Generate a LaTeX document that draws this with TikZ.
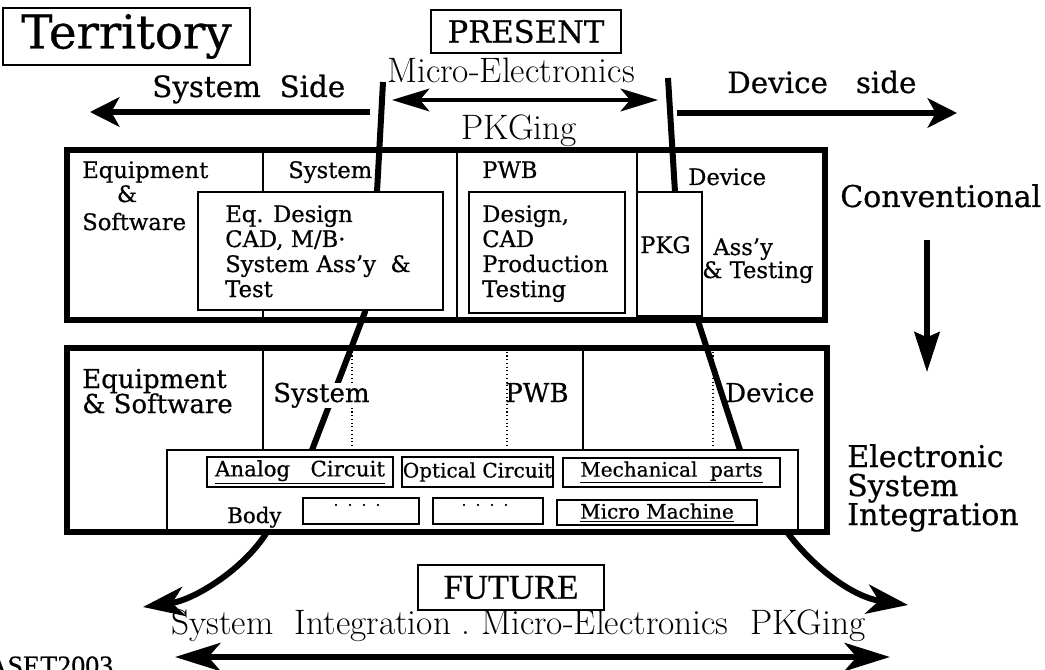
\documentclass[tikz,border=0pt]{standalone}
\usepackage{fontspec}
\newfontfamily\csfont{DejaVu Serif}[FakeBold=0.6]
\newfontfamily\tmfont{Liberation Serif}[FakeBold=0.6]
\usetikzlibrary{arrows.meta}
\newcommand\fsz[2]{\fontsize{#1}{#2}\selectfont}

\tikzset{
  frame/.style={line width=4.5pt},
  divider/.style={line width=0.9pt},
  dotdiv/.style={line width=0.8pt, dotted},
  innerbox/.style={draw, line width=1.1pt, fill=white},
  rowbox/.style={draw, line width=0.9pt, fill=white, inner sep=0pt},
  titlebox/.style={draw, line width=1.1pt, inner sep=0pt},
  bound/.style={line width=4.5pt, line join=round, -{Stealth[length=31pt, width=22pt, inset=9pt]}},
  sidearrow/.style={line width=4.5pt, -{Stealth[length=22pt, width=22pt, inset=6pt]}},
  presarrow/.style={line width=3pt, {Stealth[length=28pt, width=17pt, inset=7pt]}-{Stealth[length=28pt, width=17pt, inset=7pt]}},
  futarrow/.style={line width=5pt, {Stealth[length=34pt, width=21pt, inset=9pt]}-{Stealth[length=34pt, width=21pt, inset=9pt]}},
  downarrow/.style={line width=4pt, -{Stealth[length=30pt, width=19pt, inset=4pt]}},
  lbl/.style={anchor=base west, inner sep=0pt, font=\csfont\fsz{17pt}{19pt}},
  midlbl/.style={anchor=base west, inner sep=0pt, font=\csfont\fsz{19.5pt}{22pt}},
  sidelbl/.style={anchor=base west, inner sep=0pt, font=\csfont\fsz{22.5pt}{26pt}},
  lightlbl/.style={anchor=base, inner sep=0pt, font=\fsz{26.5pt}{30pt}},
  rowlbl/.style={font=\csfont\fsz{15pt}{17pt}},
}

\begin{document}
\begin{tikzpicture}[x=0.75pt,y=-0.75pt]
\useasboundingbox (0,0) rectangle (1045,670);

% headline
\node[titlebox, minimum width=185pt, minimum height=42.75pt, font=\csfont\fsz{35pt}{40pt}] (terr) at (126.5,36.5) {Territory};
\node[titlebox, minimum width=142.5pt, minimum height=32.25pt, font=\csfont\fsz{23pt}{26pt}] (present) at (526,31.5) {PRESENT};
\node[anchor=base west, inner sep=0pt, font=\csfont\fsz{22pt}{26pt}] (sysside) at (152,97) {System\ \ Side};
\node[anchor=base west, inner sep=0pt, font=\csfont\fsz{22pt}{26pt}] (devside) at (727,93) {Device\ \ \ side};
\node[lightlbl] (micro) at (511,83) {Micro-Electronics};
\node[lightlbl] (pkging) at (519,140) {PKGing};

\coordinate (sysR) at (370,112); \coordinate (sysL) at (90,112);
\coordinate (mpL) at (392,100); \coordinate (mpR) at (658,100);
\coordinate (devL) at (677,113); \coordinate (devR) at (957,113);
\draw[sidearrow] (sysR) -- (sysL);
\draw[presarrow] (mpL) -- (mpR);
\draw[sidearrow] (devL) -- (devR);

% column lines
\foreach \x in {263,457,637} \draw[divider] (\x,150) -- (\x,320);
\foreach \x in {263,583} \draw[divider] (\x,348) -- (\x,450);
\foreach \x in {352,507,713} \draw[dotdiv] (\x,348) -- (\x,450);

% PKGing borders
\coordinate (lTop) at (383,82); \coordinate (lOut) at (267,532); \coordinate (lTip) at (143,607);
\coordinate (rTop) at (668,78); \coordinate (rOut) at (787,532); \coordinate (rTip) at (908,605);
\draw[bound] (lTop) -- (377,192) -- (365,312) -- (312,450) -- (lOut) .. controls (245,568) and (195,600) .. (lTip);
\draw[bound] (rTop) -- (675,192) -- (697,318) -- (740,450) -- (rOut) .. controls (812,566) and (852,597) .. (rTip);

% inner boxes
\draw[innerbox] (198,192) rectangle (443,310);
\draw[innerbox] (469,192) rectangle (625,313);
\draw[innerbox] (637,192) rectangle (702,316);
\draw[innerbox] (167,450) rectangle (798,532);

\draw[frame] (67,150) rectangle (825,320);
\draw[frame] (67,348) rectangle (827,532);

% conventional
\node[lbl] (eqA) at (82,178) {Equipment};
\node[lbl, anchor=base] (eqB) at (127,202) {\&};
\node[lbl] (eqC) at (82,230) {Software};
\node[lbl] (sysU) at (288,178) {System};
\node[lbl] (pwbU) at (482,178) {PWB};
\node[lbl] (devU) at (688,185) {Device};
\foreach \t [count=\i from 0] in {Eq. Design, {CAD, M/B·}, {System Ass’y\ \ \&}, Test}
  \node[lbl] (eqd\i) at (225,{222+25*\i}) {\t};
\foreach \t [count=\i from 0] in {{Design,}, CAD, Production, Testing}
  \node[lbl] (cad\i) at (482,{222+25*\i}) {\t};
\node[lbl] (pkg) at (640,253) {PKG};
\node[lbl] (assy) at (713,255) {Ass’y};
\node[lbl] (test) at (702,278) {\& Testing};
\node[sidelbl] (conv) at (840,207) {Conventional};

\coordinate (convA) at (927,240); \coordinate (convB) at (927,372);
\draw[downarrow] (convA) -- (convB);

% electronic system integration
\node[midlbl] (eqL) at (82,388) {Equipment};
\node[midlbl] (swL) at (82,413) {\& Software};
\node[midlbl, fill=white] (sysL) at (273,402) {System};
\node[midlbl] (pwbL) at (505,402) {PWB};
\node[midlbl] (devLo) at (725,402) {Device};

\node[rowbox, rowlbl, font=\csfont\fsz{16pt}{18pt}, minimum width=139.5pt, minimum height=22.5pt] (analog) at (300,472) {\underline{Analog\ \ \ Circuit}};
\node[rowbox, rowlbl, minimum width=113.25pt, minimum height=22.5pt] (optical) at (477.5,472) {Optical Circuit};
\node[rowbox, rowlbl, minimum width=162.75pt, minimum height=21.75pt] (mech) at (671.5,472.5) {\underline{Mechanical\ \ parts}};
\node[rowbox, minimum width=87pt, minimum height=19.5pt] (dotsA) at (361,511) {};
\node[rowbox, minimum width=82.5pt, minimum height=19.5pt] (dotsB) at (488,511) {};
\node[rowbox, rowlbl, minimum width=150pt, minimum height=18.75pt] (mm) at (657,512.5) {\underline{Micro Machine}};
\node[inner sep=0pt, font=\csfont\fsz{11pt}{12pt}] (ptsA) at (357,507) {·\ \ ·\ \ ·\ \ ·};
\node[inner sep=0pt, font=\csfont\fsz{11pt}{12pt}] (ptsB) at (485,507) {·\ \ ·\ \ ·\ \ ·};
\node[anchor=base west, inner sep=0pt, font=\csfont\fsz{16pt}{18pt}] (body) at (227,523) {Body};

\foreach \t [count=\i from 0] in {Electronic, System, Integration}
  \node[sidelbl] (esi\i) at (847,{467+29*\i}) {\t};

% future
\node[titlebox, minimum width=139.5pt, minimum height=33.75pt, font=\tmfont\fsz{26pt}{30pt}] (future) at (511,587.5) {FUTURE};
\node[lightlbl] (futtext) at (518.5,634) {System\ \ Integration\ .\ Micro-Electronics\ \ PKGing};
\coordinate (fuL) at (175,657); \coordinate (fuR) at (890,657);
\draw[futarrow] (fuL) -- (fuR);

\node[anchor=base west, inner sep=0pt, font=\tmfont\fsz{21pt}{24pt}] (aset) at (-13,675) {ASET2003};
\end{tikzpicture}
\end{document}
